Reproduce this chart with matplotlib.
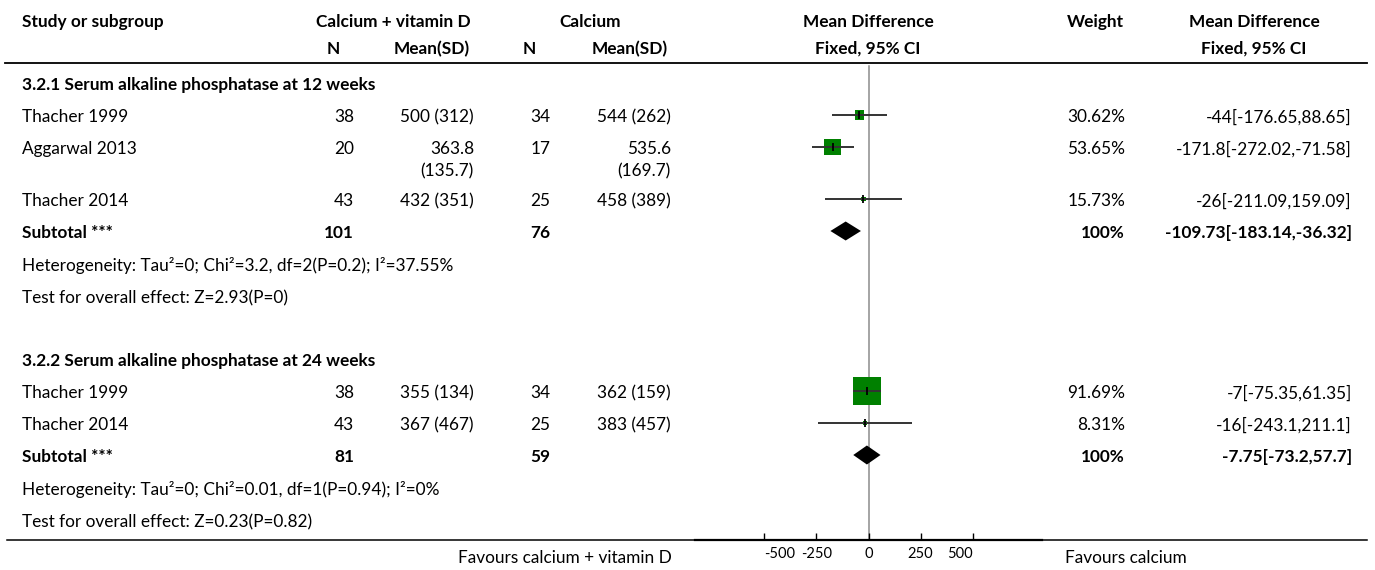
import matplotlib.pyplot as plt

plt.rcParams['font.family'] = ['Lato', 'DejaVu Sans']
plt.rcParams['axes.unicode_minus'] = False

# per-study data (first three: 12 weeks, last two: 24 weeks)
studies = ['Thacher 1999', 'Aggarwal 2013', 'Thacher 2014', 'Thacher 1999', 'Thacher 2014']
n_trt = [38, 20, 43, 38, 43]
mean_trt = [500, 363.8, 432, 355, 367]
sd_trt = [312, 135.7, 351, 134, 467]
n_ctl = [34, 17, 25, 34, 25]
mean_ctl = [544, 535.6, 458, 362, 383]
sd_ctl = [262, 169.7, 389, 159, 457]
md = [-44, -171.8, -26, -7, -16]
ci_lo = [-176.65, -272.02, -211.09, -75.35, -243.1]
ci_hi = [88.65, -71.58, 159.09, 61.35, 211.1]
weight = [30.62, 53.65, 15.73, 91.69, 8.31]

# subgroup totals
groups = ['3.2.1 Serum alkaline phosphatase at 12 weeks',
          '3.2.2 Serum alkaline phosphatase at 24 weeks']
sub_n_trt = [101, 81]
sub_n_ctl = [76, 59]
sub_md = [-109.73, -7.75]
sub_lo = [-183.14, -73.2]
sub_hi = [-36.32, 57.7]
heterogeneity = ['Heterogeneity: Tau²=0; Chi²=3.2, df=2(P=0.2); I²=37.55%',
                 'Heterogeneity: Tau²=0; Chi²=0.01, df=1(P=0.94); I²=0%']
overall = ['Test for overall effect: Z=2.93(P=0)',
           'Test for overall effect: Z=0.23(P=0.82)']

xticks = [-500, -250, 0, 250, 500]

# row layout (pixel rows, top = 0)
W, H = 1375, 570
group_y = [83, 359]
study_y = [115, 147, 199, 391, 423]
sub_y = [231, 455]
het_y = [264, 488]
test_y = [296, 520]
line_gap = 22

FS = 12.4
fig = plt.figure(figsize=(W / 100, H / 100), dpi=100)
tab = fig.add_axes([0, 0, 1, 1])
tab.set_xlim(0, W)
tab.set_ylim(H, 0)
tab.axis('off')


def txt(x, y, s, ha='left', bold=False, size=FS):
    for i, line in enumerate(str(s).split('\n')):
        tab.text(x, y + 2 + i * line_gap, line, ha=ha, va='center', fontsize=size,
                 fontweight='bold' if bold else 'normal', color='black')


def mean_sd(m, s):
    label = f'{m:g} ({s:g})'
    return label.replace(' ', '\n') if len(label) > 9 else label


# column headers
txt(22, 20, 'Study or subgroup', bold=True)
txt(393, 20, 'Calcium + vitamin D', ha='center', bold=True)
txt(590, 20, 'Calcium', ha='center', bold=True)
txt(868, 20, 'Mean Difference', ha='center', bold=True)
txt(1124, 20, 'Weight', ha='right', bold=True)
txt(1254, 20, 'Mean Difference', ha='center', bold=True)
txt(340, 47, 'N', ha='right', bold=True)
txt(470, 47, 'Mean(SD)', ha='right', bold=True)
txt(536, 47, 'N', ha='right', bold=True)
txt(668, 47, 'Mean(SD)', ha='right', bold=True)
txt(868, 47, 'Fixed, 95% CI', ha='center', bold=True)
txt(1254, 47, 'Fixed, 95% CI', ha='center', bold=True)
tab.plot([5, 1367], [63, 63], color='black', lw=1.3)
tab.plot([7, 1367], [540, 540], color='black', lw=1.1)

for i, y in enumerate(study_y):
    txt(22, y, studies[i])
    txt(354, y, n_trt[i], ha='right')
    txt(474, y, mean_sd(mean_trt[i], sd_trt[i]), ha='right')
    txt(550, y, n_ctl[i], ha='right')
    txt(671, y, mean_sd(mean_ctl[i], sd_ctl[i]), ha='right')
    txt(1125, y, f'{weight[i]:g}%', ha='right')
    txt(1352, y, f'{md[i]:g}[{ci_lo[i]:g},{ci_hi[i]:g}]', ha='right')

for g in range(2):
    txt(22, group_y[g], groups[g], bold=True)
    txt(22, sub_y[g], 'Subtotal ***', bold=True)
    txt(354, sub_y[g], sub_n_trt[g], ha='right', bold=True)
    txt(550, sub_y[g], sub_n_ctl[g], ha='right', bold=True)
    txt(1125, sub_y[g], '100%', ha='right', bold=True)
    txt(1352, sub_y[g], f'{sub_md[g]:g}[{sub_lo[g]:g},{sub_hi[g]:g}]', ha='right', bold=True)
    txt(22, het_y[g], heterogeneity[g])
    txt(22, test_y[g], overall[g])

txt(672, 556, 'Favours calcium + vitamin D', ha='right')
txt(1065, 556, 'Favours calcium')

# forest panel
fx = fig.add_axes([695 / W, (H - 540) / H, (1042 - 695) / W, (540 - 62) / H])
fx.set_xlim(-834, 834)
fx.set_ylim(540, 62)
fx.patch.set_alpha(0)
for side in ['top', 'left', 'right']:
    fx.spines[side].set_visible(False)
fx.spines['bottom'].set_linewidth(1.6)
fx.set_yticks([])
fx.set_xticks(xticks)
fx.tick_params(axis='x', direction='in', length=5, width=1, pad=5, labelsize=10.5)
for lab, ha in zip(fx.get_xticklabels(), ['left', 'center', 'center', 'center', 'right']):
    lab.set_horizontalalignment(ha)

fx.plot([0, 0], [66, 540], color='#8c8c8c', lw=1.1, zorder=1)

side_pt = [max(3.2, 0.31 * w * 0.72) for w in weight]
fx.scatter(md, study_y, s=[s ** 2 for s in side_pt], marker='s', color='#008000',
           edgecolors='none', zorder=2)
fx.hlines(study_y, ci_lo, ci_hi, color='#333333', lw=1.4, zorder=3)
fx.scatter(md, study_y, s=40, marker='|', color='black', linewidths=1.3, zorder=4)

for g in range(2):
    y = sub_y[g]
    fx.fill([sub_lo[g], sub_md[g], sub_hi[g], sub_md[g]], [y, y - 9.5, y, y + 9.5],
            color='black', lw=0, zorder=3)

fig.savefig('out.png', dpi=100)
